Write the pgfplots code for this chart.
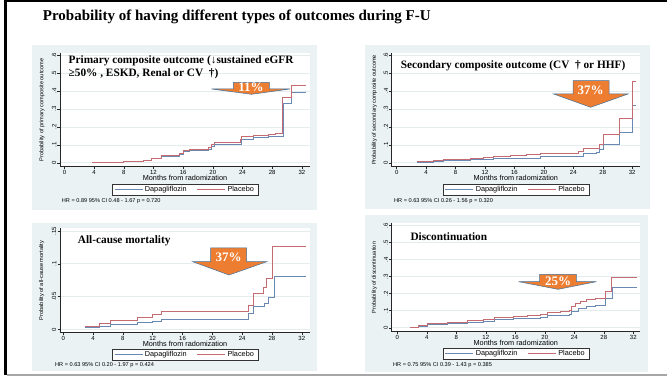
\documentclass[border=0pt]{standalone}
\usepackage{fontspec}
\setmainfont{Liberation Serif}
\setsansfont{Liberation Sans}
\usepackage{pgfplots}
\pgfplotsset{compat=1.18}
\definecolor{bgc}{RGB}{234,242,243}
\definecolor{gridc}{RGB}{228,236,238}
\definecolor{dapa}{RGB}{106,137,178}
\definecolor{plac}{RGB}{196,108,114}
\definecolor{arrowor}{RGB}{237,125,49}
\definecolor{arrowbl}{RGB}{65,113,156}
\newcommand{\fs}[1]{\fontsize{#1}{#1}\selectfont}
\pgfplotsset{
  km/.style={
    scale only axis,
    anchor=south west,
    axis x line*=bottom, axis y line*=left,
    axis line style={-, black!85, line width=0.5pt},
    axis background/.style={fill=white},
    tick align=outside,
    major tick length=2.5pt,
    tick style={black!85, line width=0.5pt},
    xtick={0,4,...,32},
    xticklabels={0,4,8,12,16,20,24,28,32},
    ymajorgrids,
    major grid style={gridc, line width=0.6pt},
    ticklabel style={font=\sffamily\fs{6}},
    xticklabel style={inner sep=0.6pt},
    yticklabel style={rotate=90, anchor=south, inner sep=1pt},
    xlabel={Months from radomization},
    xlabel style={font=\sffamily\fs{7.3}, at={(axis description cs:0.5,0)}, anchor=center, yshift=-11pt},
    ylabel style={font=\sffamily\fs{5.6}, anchor=center},
    legend columns=2,
    legend style={at={(axis description cs:0.5,0)}, anchor=center, yshift=-23pt, font=\sffamily\fs{7.3}, draw=black!80, line width=0.4pt, fill=white, inner xsep=2pt, inner ysep=0.8pt, nodes={inner ysep=1pt}, /tikz/every even column/.append style={column sep=8pt}},
    legend image code/.code={\draw[#1] (0pt,0pt) -- (28pt,0pt);},
    every axis plot/.append style={const plot, line width=0.8pt},
  }
}
\begin{document}
\begin{tikzpicture}
\useasboundingbox (0pt,0pt) rectangle (667pt,377pt);
\fill[white] (0pt,0pt) rectangle (667pt,377pt);
% slide frame
\fill[black] (4pt,374.5pt) rectangle (667pt,377pt);
\fill[black] (4pt,2pt) rectangle (7pt,377pt);
\fill[black!35] (7pt,1pt) rectangle (667pt,2.6pt);
% panel backgrounds
\fill[bgc] (31.7pt,167pt) rectangle (316.7pt,332pt);
\fill[bgc] (365pt,168pt) rectangle (650pt,332pt);
\fill[bgc] (31.7pt,6pt) rectangle (316.7pt,153.7pt);
\fill[bgc] (365pt,5.3pt) rectangle (648pt,162pt);

% Panel 1
\begin{axis}[km, at={(60pt,210.3pt)}, width=250pt, height=113.4pt,
  xmin=-0.6, xmax=33.1, ymin=-0.022, ymax=0.611,
  ytick={0,0.1,0.2,0.3,0.4,0.5,0.6}, yticklabels={0,.1,.2,.3,.4,.5,.6},
  ylabel={Probability of primary composite outcome},
  ylabel style={at={(axis description cs:-0.072,0.5)}}]
\addplot[dapa] coordinates {(3.7,0) (5,0.003) (7.9,0.006) (10.6,0.013) (11.7,0.022) (13.1,0.037) (15.5,0.045) (16,0.061) (16.9,0.069) (19.4,0.075) (19.8,0.093) (20.2,0.10) (23.8,0.133) (25.5,0.139) (27.5,0.146) (29.5,0.33) (30.6,0.394) (32.6,0.394)};
\addplot[plac] coordinates {(3.7,0) (5,0.004) (7.9,0.007) (10.6,0.015) (11.7,0.024) (13.1,0.04) (15.5,0.052) (16,0.067) (16.9,0.074) (19.4,0.083) (19.8,0.10) (20.2,0.115) (23.7,0.13) (23.8,0.146) (25.5,0.154) (27.5,0.159) (28.5,0.163) (29.4,0.363) (30.6,0.431) (32.6,0.431)};
\legend{Dapagliflozin,Placebo}
\end{axis}

% Panel 2
\begin{axis}[km, at={(391.7pt,210.3pt)}, width=248.3pt, height=113.4pt,
  xmin=-0.68, xmax=33.06, ymin=-0.022, ymax=0.611,
  ytick={0,0.1,0.2,0.3,0.4,0.5,0.6}, yticklabels={0,.1,.2,.3,.4,.5,.6},
  ylabel={Probability of secondary composite outcome},
  ylabel style={at={(axis description cs:-0.07,0.5)}}]
\addplot[dapa] coordinates {(2.8,0.002) (5,0.009) (6.3,0.013) (10,0.017) (13.1,0.022) (15.4,0.026) (19.5,0.033) (24.7,0.037) (25.3,0.05) (27.1,0.056) (27.6,0.076) (28.1,0.102) (30.3,0.17) (32,0.32) (32.5,0.32)};
\addplot[plac] coordinates {(2.8,0.006) (3.6,0.009) (5,0.015) (6.3,0.02) (10,0.026) (11.8,0.03) (13.1,0.037) (15.4,0.043) (17.6,0.048) (19.5,0.054) (24.7,0.063) (25.3,0.078) (26.9,0.081) (27.6,0.104) (28.1,0.161) (30.2,0.25) (32,0.456) (32.5,0.456)};
\legend{Dapagliflozin,Placebo}
\end{axis}

% Panel 3
\begin{axis}[km, at={(60pt,44.3pt)}, width=250pt, height=104.4pt,
  xmin=-0.44, xmax=33.1, ymin=-0.005, ymax=0.154,
  ytick={0,0.05,0.1,0.15}, yticklabels={0,.05,.1,.15},
  ylabel={Probability of all-cause mortality},
  ylabel style={at={(axis description cs:-0.073,0.5)}},
  legend style={at={(axis description cs:0.5,0.008)}}]
\addplot[dapa] coordinates {(2.9,0.0025) (4.9,0.005) (6.3,0.007) (10,0.010) (11.9,0.012) (13.2,0.016) (24.8,0.024) (25.5,0.035) (27,0.04) (27.5,0.048) (28.3,0.081) (32.5,0.081)};
\addplot[plac] coordinates {(2.9,0.004) (4.9,0.0086) (6.3,0.0137) (10,0.0188) (11.9,0.0234) (13.2,0.0275) (24.8,0.037) (25.5,0.055) (26.9,0.064) (27.3,0.077) (28.1,0.127) (32.6,0.127)};
\legend{Dapagliflozin,Placebo}
\end{axis}

% Panel 4
\begin{axis}[km, at={(391.7pt,45.3pt)}, width=248.3pt, height=108.4pt,
  xmin=-0.76, xmax=32.91, ymin=-0.023, ymax=0.613,
  ytick={0,0.1,0.2,0.3,0.4,0.5,0.6}, yticklabels={0,.1,.2,.3,.4,.5,.6},
  ylabel={Probability of discontinuation},
  ylabel style={at={(axis description cs:-0.07,0.5)}},
  legend style={at={(axis description cs:0.5,0.008)}}]
\addplot[dapa] coordinates {(1.7,0.0) (2.9,0.01) (4.1,0.019) (6.8,0.025) (9.5,0.029) (11.7,0.039) (13.1,0.049) (15.8,0.053) (19.4,0.06) (20.3,0.07) (23.4,0.078) (23.6,0.099) (24.6,0.111) (25.7,0.123) (26.8,0.129) (28.2,0.172) (29.1,0.236) (32.5,0.236)};
\addplot[plac] coordinates {(1.7,0.002) (2.9,0.014) (4.1,0.025) (6.8,0.031) (9.5,0.041) (11.7,0.051) (13.1,0.06) (15.8,0.064) (17.6,0.07) (19.4,0.078) (20.3,0.092) (22.1,0.097) (23.4,0.103) (23.6,0.123) (24.1,0.142) (24.8,0.152) (25.7,0.164) (26.8,0.17) (28.2,0.216) (29,0.298) (32.5,0.298)};
\legend{Dapagliflozin,Placebo}
\end{axis}

% HR notes
\begin{scope}[every node/.style={anchor=west, inner sep=0pt, font=\sffamily\fs{5.6}}]
\node at (61.7pt,176.3pt) {HR = 0.89 95\% CI 0.48 - 1.67 p = 0.720};
\node at (394pt,176.3pt) {HR = 0.63 95\% CI 0.26 - 1.56 p = 0.320};
\node at (55pt,12.2pt) {HR = 0.63 95\% CI 0.20 - 1.97 p = 0.424};
\node at (393pt,12.2pt) {HR = 0.75 95\% CI 0.39 - 1.43 p = 0.385};
\end{scope}

% Title
\node[anchor=base west, inner sep=0pt, font=\bfseries\fs{15}] at (42.7pt,356.3pt) {Probability of having different types of outcomes during F-U};

% Panel titles
\begin{scope}[every node/.style={anchor=base west, inner sep=0pt, font=\bfseries\fs{11.3}}]
\node at (68.5pt,313.7pt) {Primary composite outcome (↓sustained eGFR};
\node at (68.5pt,300.3pt) {≥50\% , ESKD, Renal or CV\ \ †)};
\node at (400.7pt,308.7pt) {Secondary composite outcome (CV\ \ † or HHF)};
\node at (77.7pt,133pt) {All-cause mortality};
\node at (410.3pt,136pt) {Discontinuation};
\end{scope}

% Arrows
\begin{scope}[fill=arrowor, draw=arrowbl, line width=0.5pt]
\filldraw (233.3pt,294.7pt) -- (269.3pt,294.7pt) -- (269.3pt,288pt) -- (290pt,288pt) -- (251.5pt,282.7pt) -- (211.7pt,288pt) -- (233.3pt,288pt) -- cycle;
\filldraw (573pt,296.3pt) -- (609pt,296.3pt) -- (609pt,283pt) -- (628pt,283pt) -- (590.7pt,269.7pt) -- (553.7pt,283pt) -- (573pt,283pt) -- cycle;
\filldraw (210.5pt,129pt) -- (246.7pt,129pt) -- (246.7pt,115.3pt) -- (266.7pt,115.3pt) -- (229pt,102pt) -- (192.7pt,115.3pt) -- (210.5pt,115.3pt) -- cycle;
\filldraw (539.7pt,102.7pt) -- (576.3pt,102.7pt) -- (576.3pt,95.3pt) -- (596.3pt,95.3pt) -- (558pt,87.7pt) -- (518.7pt,95.3pt) -- (539.7pt,95.3pt) -- cycle;
\end{scope}
\begin{scope}[every node/.style={inner sep=0pt, text=white, font=\bfseries\fs{13}}]
\node at (251pt,289.3pt) {11\%};
\node at (590.7pt,286.3pt) {37\%};
\node at (228.5pt,119.7pt) {37\%};
\node at (558pt,96pt) {25\%};
\end{scope}
\end{tikzpicture}
\end{document}
